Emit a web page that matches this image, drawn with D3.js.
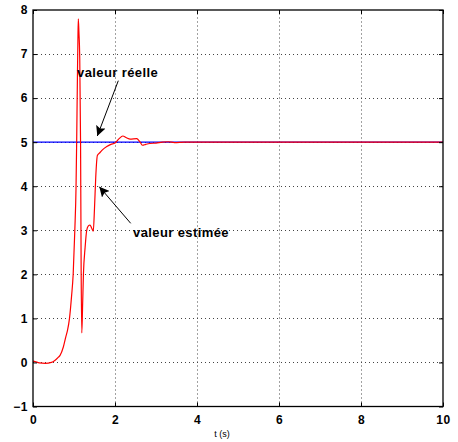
<!DOCTYPE html>
<html>
<head>
<meta charset="utf-8">
<script src="https://cdn.jsdelivr.net/npm/d3@7"></script>
<style>
body { margin: 0; background: #fff; }
svg text { font-family: "Liberation Sans", Arial, Helvetica, sans-serif; }
.axis .tick text { font-weight: bold; font-size: 12px; letter-spacing: 0.5px; fill: #000; }
.axis .tick line { stroke: #000; }
.grid line { stroke: #444; stroke-dasharray: 1 3; stroke-width: 1; }
.note { font-weight: bold; font-size: 13px; letter-spacing: 0.4px; }
</style>
</head>
<body>
<div id="vis"></div>
<script>
// estimated signal (red)
const timeEst = [0, 0.05, 0.15, 0.3, 0.45, 0.54, 0.62, 0.66, 0.74, 0.8, 0.84, 0.89, 0.94, 0.98, 1.02, 1.05,
	1.065, 1.08, 1.095, 1.105, 1.12, 1.14, 1.16, 1.175, 1.19, 1.21, 1.23, 1.27, 1.31, 1.35, 1.39, 1.43,
	1.47, 1.5, 1.53, 1.57, 1.63, 1.7, 1.8, 1.9, 2.0, 2.1, 2.19, 2.28, 2.37, 2.53, 2.6, 2.67, 2.75, 2.85,
	3.0, 3.15, 3.3, 3.45, 3.7, 4.0, 10]
const valEst = [0.03, 0.02, -0.01, -0.02, 0.0, 0.05, 0.12, 0.16, 0.35, 0.58, 0.72, 1.0, 1.5, 2.0, 3.0, 4.0,
	5.0, 6.2, 7.3, 7.8, 7.5, 6.9, 5.0, 2.0, 0.67, 1.3, 2.0, 2.6, 3.0, 3.1, 3.12, 3.05,
	2.98, 3.5, 4.2, 4.7, 4.76, 4.83, 4.9, 4.95, 4.98, 5.08, 5.14, 5.1, 5.07, 5.08, 5.02, 4.93, 4.95, 4.97,
	4.98, 5.0, 5.01, 4.99, 5.0, 5.0, 5.0]

// real value (blue)
const timeReal = [0, 10]
const valReal = [5, 5]

const xTicks = [0, 2, 4, 6, 8, 10]
const yTicks = [-1, 0, 1, 2, 3, 4, 5, 6, 7, 8]

const W = 458
const H = 442
const MARGIN = { top: 10, right: 15, bottom: 35.5, left: 33 }

const estData = timeEst.map((t, i) => ({ t, v: valEst[i] }))
const realData = timeReal.map((t, i) => ({ t, v: valReal[i] }))

const svg = d3.select('#vis').append('svg')
	.attr('width', W)
	.attr('height', H)

const x = d3.scaleLinear().domain([0, 10]).range([MARGIN.left, W - MARGIN.right])
const y = d3.scaleLinear().domain([-1, 8]).range([H - MARGIN.bottom, MARGIN.top])

// grid
const grid = svg.append('g').attr('class', 'grid')
grid.selectAll('.gx').data(xTicks.slice(1, -1)).enter()
	.append('line')
	.attr('x1', d => x(d) + 0.5).attr('x2', d => x(d) + 0.5)
	.attr('y1', y(-1)).attr('y2', y(8))
grid.selectAll('.gy').data(yTicks.slice(1, -1)).enter()
	.append('line')
	.attr('y1', d => Math.round(y(d)) + 0.5).attr('y2', d => Math.round(y(d)) + 0.5)
	.attr('x1', x(0)).attr('x2', x(10))

// lines
const line = d3.line()
	.x(d => x(d.t))
	.y(d => y(d.v))

svg.append('path')
	.datum(realData)
	.attr('d', line)
	.attr('fill', 'none')
	.attr('stroke', '#0000ff')
	.attr('stroke-width', 1.2)

svg.append('path')
	.datum(estData)
	.attr('d', line.curve(d3.curveMonotoneX))
	.attr('fill', 'none')
	.attr('stroke', '#ff0000')
	.attr('stroke-width', 1.2)

// axes, ticks pointing inward like matlab
const fmt = d3.format('d')
svg.append('g').attr('class', 'axis')
	.attr('transform', `translate(0,${y(-1)})`)
	.call(d3.axisBottom(x).tickValues(xTicks).tickFormat(fmt).tickSize(-4).tickSizeOuter(0).tickPadding(9))
svg.append('g').attr('class', 'axis')
	.attr('transform', `translate(0,${y(8)})`)
	.call(d3.axisTop(x).tickValues(xTicks).tickFormat('').tickSize(-4).tickSizeOuter(0))
svg.append('g').attr('class', 'axis')
	.attr('transform', `translate(${x(0)},0)`)
	.call(d3.axisLeft(y).tickValues(yTicks).tickFormat(fmt).tickSize(-4).tickSizeOuter(0).tickPadding(5))
svg.append('g').attr('class', 'axis')
	.attr('transform', `translate(${x(10)},0)`)
	.call(d3.axisRight(y).tickValues(yTicks).tickFormat('').tickSize(-4).tickSizeOuter(0))

svg.selectAll('.axis .domain').remove()

// box
svg.append('rect')
	.attr('x', x(0)).attr('y', y(8))
	.attr('width', x(10) - x(0)).attr('height', y(-1) - y(8))
	.attr('fill', 'none')
	.attr('stroke', '#000')
	.attr('stroke-width', 1.3)

svg.append('text')
	.attr('x', 222).attr('y', 437)
	.attr('text-anchor', 'middle')
	.style('font-size', '9px')
	.text('t (s)')

// annotations
const defs = svg.append('defs')
defs.append('marker')
	.attr('id', 'head')
	.attr('viewBox', '0 0 10 10')
	.attr('refX', 10).attr('refY', 5)
	.attr('markerWidth', 10).attr('markerHeight', 10)
	.attr('markerUnits', 'userSpaceOnUse')
	.attr('orient', 'auto')
	.append('path')
	.attr('d', 'M0,0 L10,5 L0,10 L2,5 Z')
	.attr('fill', '#000')

const notes = [
	{ label: 'valeur réelle', tx: 77, ty: 77, from: [118.3, 80.7], to: [97.3, 136] },
	{ label: 'valeur estimée', tx: 133, ty: 237, from: [130.7, 223.3], to: [99.3, 186.7] }
]

notes.forEach(n => {
	svg.append('line')
		.attr('x1', n.from[0]).attr('y1', n.from[1])
		.attr('x2', n.to[0]).attr('y2', n.to[1])
		.attr('stroke', '#000')
		.attr('stroke-width', 1)
		.attr('marker-end', 'url(#head)')
	svg.append('text')
		.attr('class', 'note')
		.attr('x', n.tx).attr('y', n.ty)
		.text(n.label)
})
</script>
</body>
</html>
